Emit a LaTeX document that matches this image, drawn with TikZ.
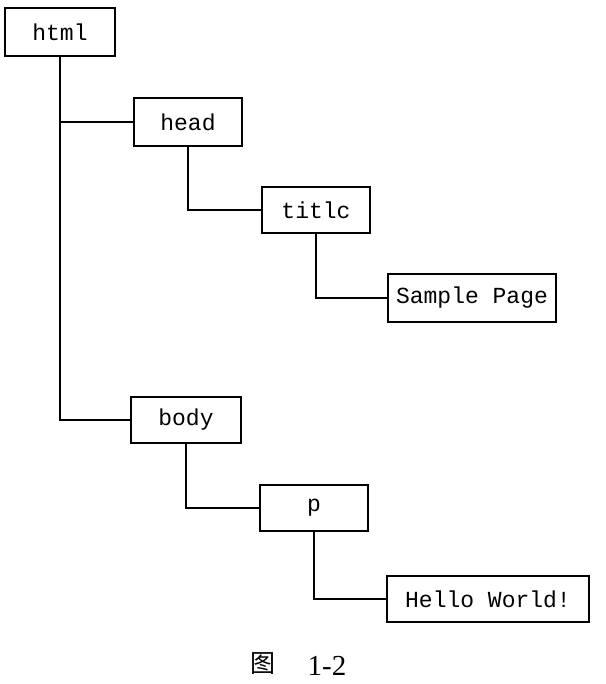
\documentclass[tikz,border=0pt]{standalone}
\usepackage{fontspec}
\setmainfont{Liberation Serif}
\newfontfamily\boxfont{Liberation Mono}
\newfontfamily\cjk{Noto Sans CJK SC}
\begin{document}
\begin{tikzpicture}[x=1pt,y=-1pt,
  tag/.style={draw,line width=2pt,minimum height=46pt,inner sep=0pt,
    font=\boxfont\fontsize{23}{26}\selectfont},
  link/.style={line width=2pt}]
\useasboundingbox (0,0) rectangle (605,684);
\node[tag,minimum width=110pt,minimum height=48pt] (html) at (60,32) {html};
\node[tag,minimum width=108pt,minimum height=48pt] (head) at (188,122) {head};
\node[tag,minimum width=108pt] (title) at (316,210) {titlc};
\node[tag,minimum width=168pt,minimum height=48pt] (sample) at (472,298) {Sample Page};
\node[tag,minimum width=110pt] (body) at (186,420) {body};
\node[tag,minimum width=108pt] (p) at (314,508) {p};
\node[tag,minimum width=202pt] (hello) at (488,599) {Hello World!};
\draw[link] (html.south) |- (head.west);
\draw[link] (html.south) |- (body.west);
\draw[link] (head.south) |- (title.west);
\draw[link] (title.south) |- (sample.west);
\draw[link] (body.south) |- (p.west);
\draw[link] (p.south) |- (hello.west);
\node[font=\cjk\fontsize{25}{28}\selectfont] (fig) at (262.5,664) {图};
\node[font=\fontsize{29}{32}\selectfont] (num) at (327,665.5) {1-2};
\end{tikzpicture}
\end{document}
